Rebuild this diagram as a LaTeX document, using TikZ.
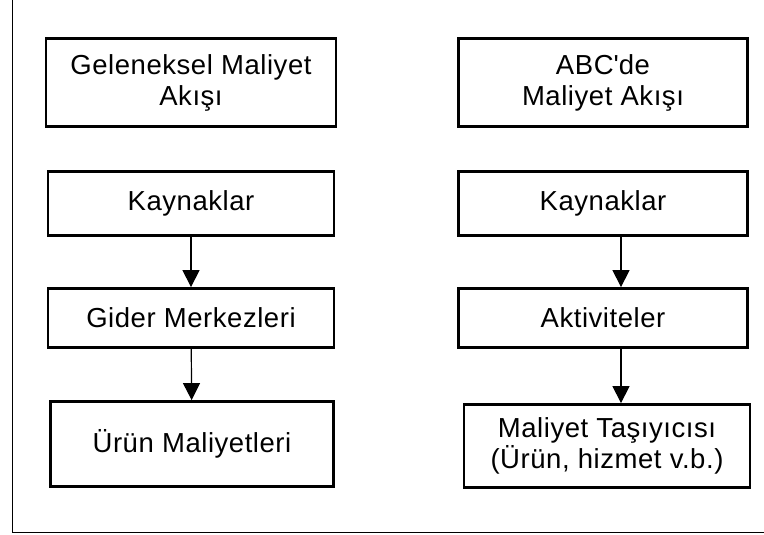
\documentclass[tikz,border=0pt]{standalone}
\usepackage{fontspec}
\setmainfont{Liberation Sans}[LetterSpace=2]
\usetikzlibrary{arrows.meta}
\begin{document}
\begin{tikzpicture}[x=1pt,y=-1pt,
  box/.style={draw,line width=2.8pt,minimum width=286pt,align=center,
    font=\fontsize{27.5}{31}\selectfont,inner sep=0pt},
  flow/.style={-{Triangle[length=17pt,width=17pt]},line width=1.2pt}]
  \useasboundingbox (0,0) rectangle (764,535);
  % Frame
  \draw[line width=1pt] (12,0) -- (12,532) -- (764,532);
  % Traditional cost flow
  \node[box,minimum width=290pt,minimum height=88pt] (gelBaslik) at (191,82.5) {Geleneksel Maliyet\\Akışı};
  \node[box,minimum height=64pt] (gelKaynak) at (191,203.5) {Kaynaklar};
  \node[box,minimum height=59pt] (gelGider) at (191,318) {Gider Merkezleri};
  \node[box,minimum width=283pt,minimum height=85pt] (gelUrun) at (192,444) {Ürün Maliyetleri};
  % ABC cost flow
  \node[box,minimum width=289pt,minimum height=88pt] (abcBaslik) at (603,82.5) {ABC\textquotesingle de\\Maliyet Akışı};
  \node[box,minimum width=289pt,minimum height=64pt] (abcKaynak) at (603,203.5) {Kaynaklar};
  \node[box,minimum width=289pt,minimum height=59pt] (abcAktivite) at (603,318) {Aktiviteler};
  \node[box,minimum height=83pt] (abcTasiyici) at (607,446) {Maliyet Taşıyıcısı\\(Ürün, hizmet v.b.)};
  % Arrows
  \draw[flow] (gelKaynak) -- (gelGider);
  \draw[flow] (gelGider) -- (gelUrun);
  \draw[flow] ([xshift=18pt]abcKaynak.south) -- ([xshift=18pt]abcAktivite.north);
  \draw[flow] ([xshift=18pt]abcAktivite.south) -- ([xshift=14pt]abcTasiyici.north);
\end{tikzpicture}
\end{document}
